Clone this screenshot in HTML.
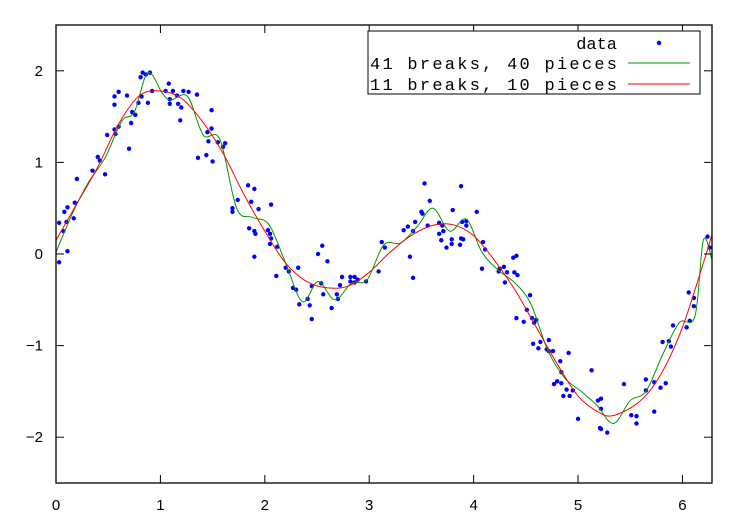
<!DOCTYPE html>
<html><head><meta charset="utf-8"><style>
body{margin:0;background:#fff}
svg{display:block;font-family:"Liberation Sans",sans-serif}
</style></head><body>
<svg id="chart" width="750" height="525" viewBox="0 0 750 525" xmlns="http://www.w3.org/2000/svg">
<rect width="750" height="525" fill="#fff"/>
<g id="marks"></g>
<rect x="56" y="25" width="656" height="458" fill="none" stroke="#000" stroke-width="1.3"/>
<g id="axes"></g>
<g>
<rect x="368" y="31" width="332" height="63" fill="#fff" stroke="#000" stroke-width="1"/>
<text x="617" y="49" text-anchor="end" font-family="Liberation Mono, monospace" font-size="17">data</text>
<circle cx="659" cy="43" r="2.2" fill="#0000ff"/>
<text x="370" y="69" font-family="Liberation Mono, monospace" font-size="17" textLength="247">41 breaks, 40 pieces</text>
<line x1="628" y1="63" x2="690" y2="63" stroke="#009900" stroke-width="1"/>
<text x="370" y="90" font-family="Liberation Mono, monospace" font-size="17" textLength="247">11 breaks, 10 pieces</text>
<line x1="628" y1="84" x2="690" y2="84" stroke="#ff0000" stroke-width="1"/>
</g>
</svg>
<script>
const xTicks=[0,1,2,3,4,5,6];
const yTicks=[-2,-1,0,1,2];
const dataX=[0.03,0.03,0.07,0.08,0.10,0.11,0.11,0.17,0.18,0.20,0.35,0.40,0.42,0.47,0.49,0.56,0.57,0.56,0.56,0.60,0.60,0.70,0.68,0.72,0.73,0.76,0.79,0.82,0.81,0.83,0.86,0.90,0.88,0.92,1.05,1.08,1.09,1.09,1.12,1.16,1.17,1.20,1.19,1.22,1.27,1.35,1.49,1.36,1.44,1.50,1.45,1.49,1.46,1.55,1.60,1.62,1.69,1.69,1.74,1.84,1.90,1.87,1.94,1.85,1.90,1.91,1.90,2.03,2.05,2.05,2.06,2.06,2.12,2.20,2.23,2.32,2.11,2.27,2.30,2.41,2.33,2.43,2.45,2.45,2.55,2.51,2.60,2.54,2.56,2.64,2.69,2.70,2.72,2.74,2.82,2.86,2.82,2.86,2.89,2.97,3.09,3.12,3.15,3.33,3.37,3.39,3.42,3.42,3.44,3.50,3.51,3.53,3.58,3.56,3.67,3.70,3.71,3.67,3.69,3.74,3.79,3.79,3.87,3.80,3.88,3.88,3.90,3.89,3.93,3.93,4.03,4.09,4.11,4.08,4.24,4.25,4.29,4.32,4.30,4.38,4.41,4.39,4.42,4.54,4.51,4.41,4.48,4.56,4.60,4.58,4.57,4.62,4.64,4.72,4.70,4.72,4.76,4.91,4.83,4.84,4.77,4.80,4.84,4.89,4.95,4.86,4.92,5.13,5.00,5.19,5.22,5.22,5.21,5.22,5.28,5.44,5.51,5.56,5.56,5.65,5.73,5.65,5.79,5.84,5.73,5.81,5.87,5.89,5.91,6.04,6.07,6.06,6.11,6.11,6.24,6.26];
const dataY=[-0.09,0.34,0.25,0.46,0.35,0.51,0.03,0.39,0.56,0.82,0.91,1.06,1.02,0.87,1.30,1.36,1.31,1.63,1.72,1.77,1.39,1.15,1.73,1.43,1.55,1.52,1.65,1.72,1.93,1.98,1.96,1.98,1.65,1.78,1.78,1.86,1.69,1.64,1.78,1.73,1.64,1.60,1.46,1.78,1.77,1.74,1.57,1.05,1.08,1.01,1.33,1.37,1.23,1.22,1.17,1.21,0.50,0.46,0.59,0.75,0.71,0.57,0.49,0.28,0.25,0.22,-0.03,0.26,0.22,0.11,0.54,0.17,0.08,-0.15,-0.19,-0.15,-0.24,-0.37,-0.39,-0.49,-0.55,-0.56,-0.71,-0.35,0.09,0.00,-0.08,-0.32,-0.44,-0.59,-0.44,-0.49,-0.34,-0.25,-0.25,-0.25,-0.30,-0.31,-0.28,-0.30,-0.19,0.13,0.07,0.26,0.30,-0.03,-0.26,0.25,0.35,0.46,0.44,0.77,0.58,0.31,0.34,0.31,0.25,0.22,0.15,0.07,0.16,0.11,0.10,0.48,0.74,0.17,0.16,0.35,0.36,0.31,0.46,0.13,0.05,-0.16,-0.19,-0.16,-0.14,-0.20,-0.31,-0.04,-0.02,-0.20,-0.23,-0.45,-0.61,-0.70,-0.74,-0.70,-0.72,-0.75,-0.98,-1.03,-0.96,-0.94,-1.04,-1.06,-1.06,-1.08,-1.17,-1.29,-1.42,-1.39,-1.41,-1.48,-1.49,-1.55,-1.55,-1.27,-1.80,-1.60,-1.58,-1.69,-1.90,-1.91,-1.95,-1.42,-1.76,-1.77,-1.85,-1.37,-1.40,-1.49,-1.46,-1.41,-1.72,-0.96,-0.95,-1.01,-0.78,-0.80,-0.73,-0.42,-0.48,-0.57,0.19,0.07];
const redX=[0,0.2,0.4,0.6,0.8,1.0,1.2,1.4,1.6,1.8,2.0,2.2,2.4,2.6,2.8,3.0,3.2,3.4,3.6,3.8,4.0,4.2,4.4,4.6,4.8,5.0,5.2,5.35,5.6,5.8,6.0,6.2,6.28];
const redY=[0.15,0.55,0.95,1.42,1.73,1.78,1.70,1.45,1.10,0.65,0.25,-0.10,-0.30,-0.37,-0.35,-0.20,0.02,0.20,0.31,0.32,0.20,-0.07,-0.40,-0.80,-1.20,-1.55,-1.73,-1.76,-1.60,-1.30,-0.80,-0.10,0.20];
const greenX=[0,0.16,0.31,0.47,0.63,0.75,0.88,1.02,1.1,1.26,1.41,1.57,1.73,1.88,2.04,2.2,2.36,2.51,2.67,2.83,2.98,3.14,3.3,3.46,3.61,3.77,3.93,4.08,4.24,4.4,4.55,4.71,4.87,5.03,5.18,5.34,5.5,5.65,5.81,5.97,6.12,6.2,6.28];
const greenY=[0.02,0.45,0.78,1.05,1.45,1.55,1.98,1.75,1.68,1.72,1.30,1.25,0.50,0.40,0.32,-0.10,-0.52,-0.30,-0.50,-0.32,-0.28,0.10,0.12,0.30,0.50,0.25,0.38,0.02,-0.18,-0.32,-0.55,-1.05,-1.35,-1.50,-1.65,-1.85,-1.60,-1.50,-1.10,-0.75,-0.68,0.15,-0.05];
const X0=56,X1=712,Y0=483,Y1=25,XMAX=6.2832;
const sx=v=>X0+(v/XMAX)*(X1-X0);
const sy=v=>Y0-((v+2.5)/5)*(Y0-Y1);
const NS="http://www.w3.org/2000/svg";
const marks=document.getElementById('marks'),axes=document.getElementById('axes');
function mk(t,a,p){const e=document.createElementNS(NS,t);for(const k in a)e.setAttribute(k,a[k]);p.appendChild(e);return e;}
function smooth(xs,ys){const P=xs.map((x,i)=>[sx(x),sy(ys[i])]);let d=`M${P[0][0]},${P[0][1]}`;
for(let i=0;i<P.length-1;i++){const p0=P[Math.max(0,i-1)],p1=P[i],p2=P[i+1],p3=P[Math.min(P.length-1,i+2)];
d+=` C${p1[0]+(p2[0]-p0[0])/6},${p1[1]+(p2[1]-p0[1])/6} ${p2[0]-(p3[0]-p1[0])/6},${p2[1]-(p3[1]-p1[1])/6} ${p2[0]},${p2[1]}`;}return d;}
dataX.forEach((x,i)=>{const c=mk('circle',{cx:sx(x),cy:sy(dataY[i]),r:2.2,fill:'#0000ff'},marks);

});
const g=mk('path',{d:smooth(greenX,greenY),fill:'none',stroke:'#009900','stroke-width':1},marks);


const r=mk('path',{d:smooth(redX,redY),fill:'none',stroke:'#ff0000','stroke-width':1},marks);


xTicks.forEach(t=>{const x=sx(t);
mk('line',{x1:x,y1:Y0,x2:x,y2:Y0-8,stroke:'#000'},axes);
mk('line',{x1:x,y1:Y1,x2:x,y2:Y1+8,stroke:'#000'},axes);
const l=mk('text',{x:x,y:510,'text-anchor':'middle','font-size':15},axes);l.textContent=String(t);

});
yTicks.forEach(t=>{const y=sy(t);
mk('line',{x1:X0,y1:y,x2:X0+8,y2:y,stroke:'#000'},axes);
mk('line',{x1:X1,y1:y,x2:X1-8,y2:y,stroke:'#000'},axes);
const l=mk('text',{x:43,y:y+5,'text-anchor':'end','font-size':15},axes);l.textContent=t<0?'\u2212'+(-t):String(t);

});
</script>
</body></html>
